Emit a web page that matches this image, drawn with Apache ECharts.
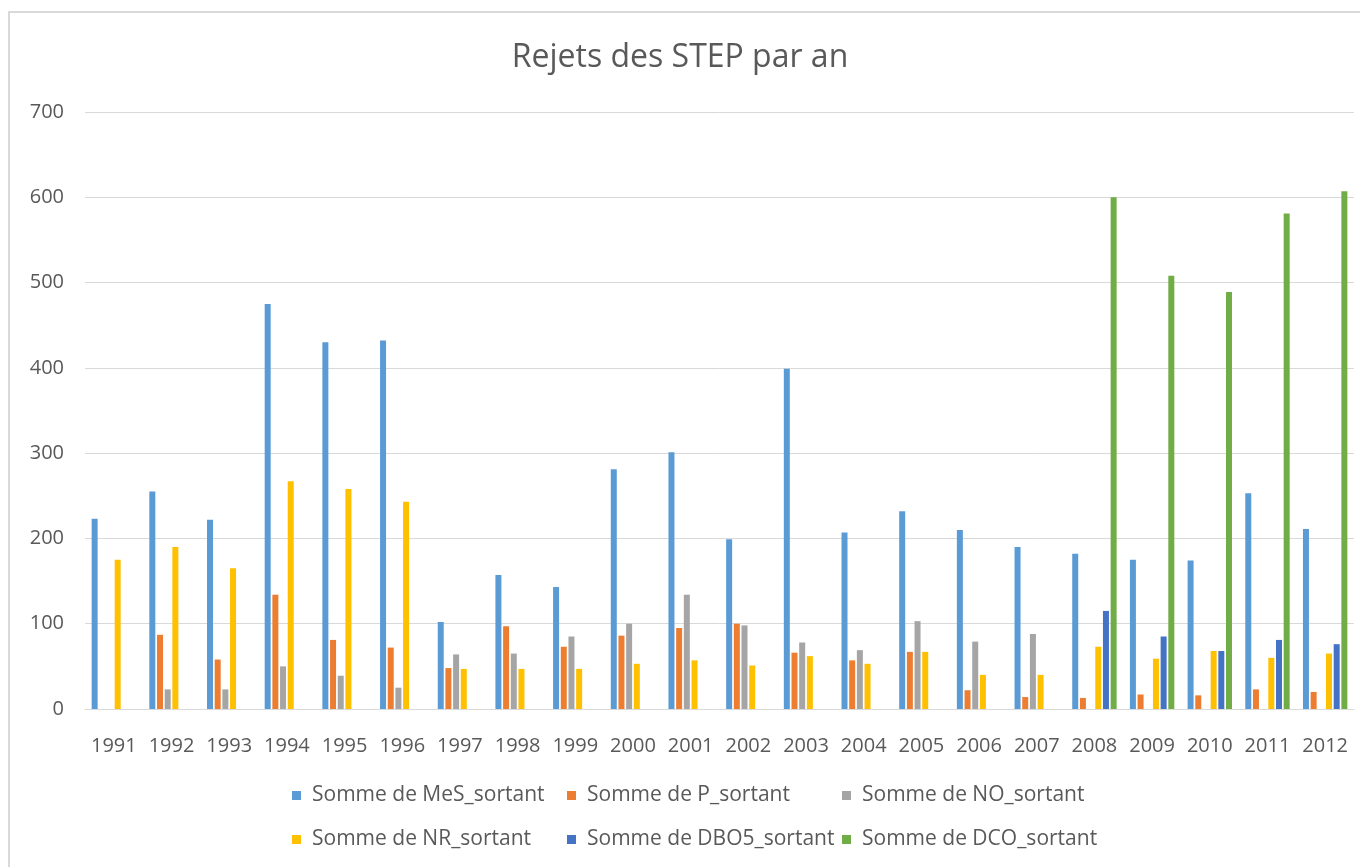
<!DOCTYPE html>
<html>
<head>
<meta charset="utf-8">
<script src="https://cdn.jsdelivr.net/npm/echarts@6/dist/echarts.min.js"></script>
<style>
  html, body { margin: 0; padding: 0; background: #fff; }
  #chart { width: 1360px; height: 867px; }
</style>
</head>
<body>
<div id="chart"></div>
<script>
// années
const years = ['1991', '1992', '1993', '1994', '1995', '1996', '1997', '1998', '1999', '2000', '2001',
  '2002', '2003', '2004', '2005', '2006', '2007', '2008', '2009', '2010', '2011', '2012']

const mesSortant = [223, 255, 222, 475, 430, 432, 102, 157, 143, 281, 301, 199, 399, 207, 232, 210, 190, 182, 175, 174, 253, 211]
const pSortant = [null, 87, 58, 134, 81, 72, 48, 97, 73, 86, 95, 100, 66, 57, 67, 22, 14, 13, 17, 16, 23, 20]
const noSortant = [null, 23, 23, 50, 39, 25, 64, 65, 85, 100, 134, 98, 78, 69, 103, 79, 88, null, null, null, null, null]
const nrSortant = [175, 190, 165, 267, 258, 243, 47, 47, 47, 53, 57, 51, 62, 53, 67, 40, 40, 73, 59, 68, 60, 65]
const dbo5Sortant = [null, null, null, null, null, null, null, null, null, null, null, null, null, null, null, null, null, 115, 85, 68, 81, 76]
const dcoSortant = [null, null, null, null, null, null, null, null, null, null, null, null, null, null, null, null, null, 600, 508, 489, 581, 607]

const seriesNames = ['Somme de MeS_sortant', 'Somme de P_sortant', 'Somme de NO_sortant',
  'Somme de NR_sortant', 'Somme de DBO5_sortant', 'Somme de DCO_sortant']
const seriesData = [mesSortant, pSortant, noSortant, nrSortant, dbo5Sortant, dcoSortant]
const colors = ['#5B9BD5', '#ED7D31', '#A5A5A5', '#FFC000', '#4472C4', '#70AD47']

const textColor = '#595959'
const font = '"Open Sans", "Noto Sans", sans-serif'

// une légende par élément, en grille 3 x 2 comme dans Excel
const legendCols = [287, 562, 837]
const legendRows = [780, 824]
const legends = seriesNames.map((name, i) => ({
  left: legendCols[i % 3],
  top: legendRows[Math.floor(i / 3)],
  data: [name],
  itemWidth: 9,
  itemHeight: 9,
  icon: 'rect',
  textStyle: { color: textColor, fontSize: 21, fontFamily: font, padding: [0, 0, 0, 6] }
}))

const chart = echarts.init(document.getElementById('chart'))
chart.setOption({
  animation: false,
  color: colors,
  title: {
    text: 'Rejets des STEP par an',
    left: 'center',
    top: 37,
    textStyle: { color: textColor, fontSize: 32, fontWeight: 'normal', fontFamily: font }
  },
  graphic: [{
    type: 'rect',
    silent: true,
    shape: { x: 9, y: 12, width: 1400, height: 900 },
    style: { fill: 'none', stroke: '#d9d9d9', lineWidth: 2 }
  }],
  legend: legends,
  grid: { left: 85, right: 6, top: 112, bottom: 158 },
  xAxis: {
    type: 'category',
    data: years,
    axisTick: { show: false },
    axisLine: { lineStyle: { color: '#d9d9d9', width: 1 } },
    axisLabel: { color: textColor, fontSize: 20, fontFamily: font, margin: 27, interval: 0 }
  },
  yAxis: {
    type: 'value',
    min: 0,
    max: 700,
    interval: 100,
    axisLabel: { color: textColor, fontSize: 20, fontFamily: font, margin: 21 },
    splitLine: { lineStyle: { color: '#d9d9d9', width: 1 } }
  },
  series: seriesNames.map((name, i) => ({
    name: name,
    type: 'bar',
    data: seriesData[i],
    barWidth: 6,
    barGap: '28%'
  }))
})
</script>
</body>
</html>
